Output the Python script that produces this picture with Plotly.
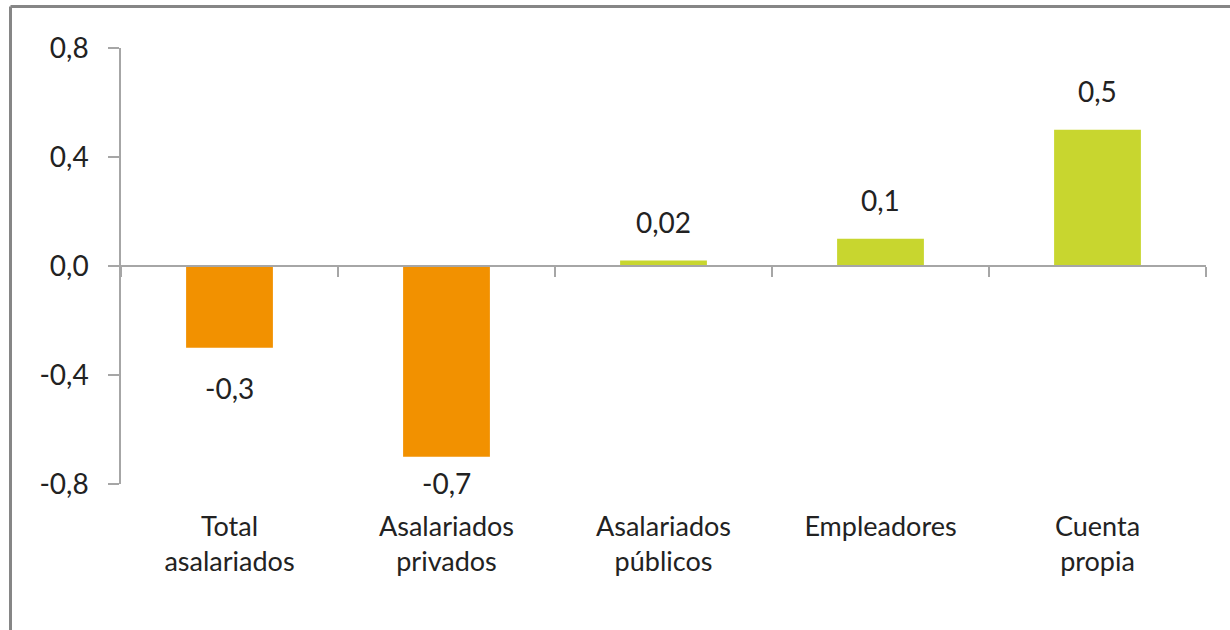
import plotly.graph_objects as go

# datos
categorias = ["Total<br>asalariados", "Asalariados<br>privados", "Asalariados<br>públicos",
              "Empleadores", "Cuenta<br>propia"]
valores = [-0.3, -0.7, 0.02, 0.1, 0.5]
etiquetas = ["-0,3", "-0,7", "0,02", "0,1", "0,5"]
y_ticks = [0.8, 0.4, 0.0, -0.4, -0.8]
y_tick_labels = ["0,8", "0,4", "0,0", "-0,4", "-0,8"]

NARANJA = "#F29100"
VERDE = "#C8D62F"
GRIS = "#A6A6A6"
TEXTO = "#222222"
FUENTE = "Lato"

colores = [NARANJA if v < 0 else VERDE for v in valores]

fig = go.Figure()
fig.add_trace(go.Bar(
    x=categorias,
    y=valores,
    marker=dict(color=colores, line=dict(width=0)),
    hoverinfo="skip",
))

# etiquetas de datos (la de -0,7 queda más cerca de la barra, como en el original)
desplazamientos = [-21, -7, 20, 20, 20]
for cat, val, txt, dy in zip(categorias, valores, etiquetas, desplazamientos):
    fig.add_annotation(
        x=cat, y=val, text=txt, showarrow=False,
        yanchor="bottom" if val >= 0 else "top",
        yshift=dy,
        font=dict(family=FUENTE, size=28, color=TEXTO),
    )

fig.update_layout(
    width=1230,
    height=630,
    margin=dict(l=121, r=24, t=48, b=146),
    plot_bgcolor="white",
    paper_bgcolor="white",
    bargap=0.6,
    showlegend=False,
    font=dict(family=FUENTE, size=28, color=TEXTO),
    xaxis=dict(
        showline=False,
        ticks="",
        showgrid=False,
        zeroline=False,
        tickfont=dict(family=FUENTE, size=27, color=TEXTO),
        ticklabelstandoff=24,
    ),
    # eje de categorías en y=0 (marcas en los límites)
    xaxis2=dict(
        overlaying="x",
        matches="x",
        anchor="free",
        position=0.5,
        showline=True,
        linecolor=GRIS,
        linewidth=1.5,
        ticks="outside",
        tickson="boundaries",
        ticklen=10,
        tickcolor=GRIS,
        tickwidth=1.5,
        showticklabels=False,
        showgrid=False,
        zeroline=False,
    ),
    yaxis=dict(
        range=[-0.8, 0.8],
        tickvals=y_ticks,
        ticktext=y_tick_labels,
        showline=True,
        linecolor=GRIS,
        linewidth=1.5,
        ticks="outside",
        ticklen=11,
        tickcolor=GRIS,
        tickwidth=1.5,
        showgrid=False,
        zeroline=False,
        ticklabelstandoff=14,
        tickfont=dict(family=FUENTE, size=28, color=TEXTO),
    ),
)

# traza invisible para mostrar el eje en cero
fig.add_trace(go.Bar(x=categorias, y=[0] * len(categorias), xaxis="x2",
                     marker=dict(opacity=0), hoverinfo="skip", showlegend=False))

# borde del gráfico (arriba e izquierda)
fig.add_shape(type="line", xref="paper", yref="paper",
              x0=(10.5 - 121) / 1085, x1=(1240 - 121) / 1085,
              y0=(484 - 6.5) / 436, y1=(484 - 6.5) / 436,
              line=dict(color="#868686", width=3))
fig.add_shape(type="line", xref="paper", yref="paper",
              x0=(10.5 - 121) / 1085, x1=(10.5 - 121) / 1085,
              y0=(484 - 6.5) / 436, y1=(484 - 650) / 436,
              line=dict(color="#868686", width=3))

fig.write_html("out.html", config={"displayModeBar": False},
               post_script="document.body.style.margin='0';")
